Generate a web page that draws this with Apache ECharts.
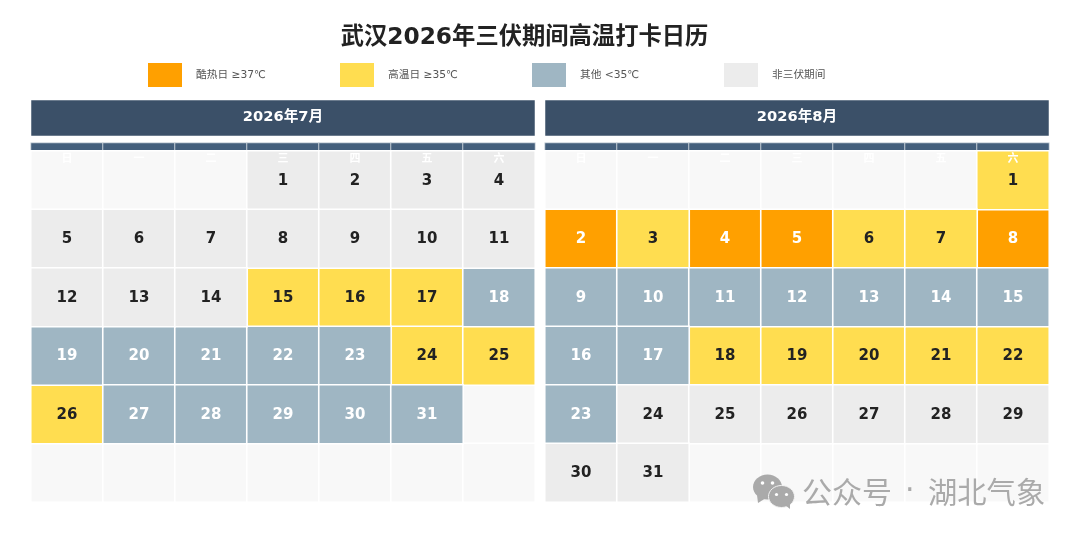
<!DOCTYPE html>
<html><head><meta charset="utf-8">
<style>html,body{margin:0;padding:0;background:#fff}#c{width:1080px;height:536px}</style>
<script src="https://cdn.jsdelivr.net/npm/echarts@6/dist/echarts.min.js"></script>
</head><body><div id="c"></div>
<script>
const titleText = '武汉2026年三伏期间高温打卡日历';
const weekdays = ['日','一','二','三','四','五','六'];
const rowsIdx = ['0','1','2','3','4','5'];
const monthTitles = ['2026年7月','2026年8月'];
const firstWeekday = [3, 6];
// status per day: C 酷热, H 高温, O 其他, N 非三伏
const julyStatus = ['N','N','N','N','N','N','N','N','N','N','N','N','N','N','H','H','H','O','O','O','O','O','O','H','H','H','O','O','O','O','O'];
const augStatus = ['H','C','H','C','C','H','H','C','O','O','O','O','O','O','O','O','O','H','H','H','H','H','O','N','N','N','N','N','N','N','N'];
const monthStatus = [julyStatus, augStatus];
const categories = [
  {key:'C', name:'酷热日 ≥37℃', color:'#FFA000', text:'#ffffff', legendLeft:148},
  {key:'H', name:'高温日 ≥35℃', color:'#FFDD50', text:'#222222', legendLeft:340},
  {key:'O', name:'其他 <35℃',  color:'#9FB6C3', text:'#ffffff', legendLeft:532},
  {key:'N', name:'非三伏期间', color:'#ECECEC', text:'#222222', legendLeft:724}
];
const FONT = '"DejaVu Sans","Noto Sans CJK SC",sans-serif';
const panels = [{left:31},{left:545}];
const W = 504;

const grid=[], xAxis=[], yAxis=[], series=[];
function addGrid(left, top, width, height, xData, yData, xOpt, yOpt){
  const i = grid.length;
  grid.push({left, top, width, height, containLabel:false});
  xAxis.push(Object.assign({type:'category', gridIndex:i, data:xData, show:false}, xOpt||{}));
  yAxis.push(Object.assign({type:'category', gridIndex:i, data:yData, show:false, inverse:true}, yOpt||{}));
  return i;
}
function cellSeries(name, idx, data, color, extra){
  series.push(Object.assign({
    type:'heatmap', name, xAxisIndex:idx, yAxisIndex:idx, data,
    itemStyle:{color, borderColor:'#fff', borderWidth:1.6},
    emphasis:{disabled:true}, animation:false, silent:true
  }, extra||{}));
}
panels.forEach((p, m)=>{
  // month band
  const g0 = addGrid(p.left + 0.5, 100.5, W - 1, 35, ['m'], ['r']);
  cellSeries('band'+m, g0, [[0,0,1]], '#3B5068', {
    itemStyle:{color:'#3B5068', borderWidth:0},
    label:{show:true, formatter:monthTitles[m], color:'#fff', fontFamily:FONT, fontWeight:'bold', fontSize:14.7, offset:[0,-1]}
  });
  // weekday strip
  const g1 = addGrid(p.left, 143, W, 8, weekdays, ['r']);
  cellSeries('strip'+m, g1, weekdays.map((d,i)=>[i,0,1]), '#445F7C', {
    itemStyle:{color:'#445F7C', borderColor:'#dfe5ea', borderWidth:0.8}
  });
  // calendar cells
  const g2 = addGrid(p.left, 151, W, 351, weekdays, rowsIdx, {
    show:true, position:'top', z:6,
    axisLine:{show:false}, axisTick:{show:false}, splitLine:{show:false},
    axisLabel:{show:true, inside:true, margin:3, color:'#fff', fontSize:11, fontWeight:'bold', fontFamily:FONT}
  });
  const occupied = {};
  const buckets = {C:[],H:[],O:[],N:[]};
  monthStatus[m].forEach((s,d)=>{
    const pos = d + firstWeekday[m];
    const c = pos % 7, r = Math.floor(pos/7);
    occupied[r+'_'+c] = 1;
    buckets[s].push([c, r, d+1]);
  });
  const blanks = [];
  rowsIdx.forEach((_,r)=>weekdays.forEach((_,c)=>{ if(!occupied[r+'_'+c]) blanks.push([c,r,0]); }));
  cellSeries('blank'+m, g2, blanks, '#F8F8F8');
  categories.forEach(cat=>{
    cellSeries(cat.name, g2, buckets[cat.key], cat.color, {
      label:{show:true, formatter:p=>String(p.value[2]), color:cat.text, fontFamily:FONT, fontWeight:'bold', fontSize:15, offset:[0,0.4]}
    });
  });
});

const option = {
  backgroundColor:'#fff', animation:false,
  title:{text:titleText, left:519.5, textAlign:'center', top:21,
    textStyle:{fontFamily:FONT, fontWeight:'bold', fontSize:23.3, color:'#222'}},
  legend: categories.map(c=>({
    data:[c.name], left:c.legendLeft, top:63, padding:0, itemWidth:34, itemHeight:24, itemGap:0,
    icon:'rect', selectedMode:false, itemStyle:{borderWidth:0},
    textStyle:{fontFamily:FONT, fontSize:10.7, color:'#555', padding:[0,0,4,9]}
  })),
  grid, xAxis, yAxis, series,
  graphic:[
    {type:'ellipse', z:100, shape:{cx:767.5, cy:487, rx:14.5, ry:12.5}, style:{fill:'#aaaaaa'}},
    {type:'polygon', z:100, shape:{points:[[757,495],[758,503],[766,498]]}, style:{fill:'#aaaaaa'}},
    {type:'circle', z:100, shape:{cx:762.5, cy:483, r:1.8}, style:{fill:'#fff'}},
    {type:'circle', z:100, shape:{cx:772.5, cy:483, r:1.8}, style:{fill:'#fff'}},
    {type:'ellipse', z:101, shape:{cx:781.5, cy:496.5, rx:13, ry:11}, style:{fill:'#aaaaaa', stroke:'#f4f4f4', lineWidth:1}},
    {type:'polygon', z:101, shape:{points:[[785,505],[790,509],[790,502]]}, style:{fill:'#aaaaaa'}},
    {type:'circle', z:102, shape:{cx:776.5, cy:494.5, r:1.6}, style:{fill:'#fff'}},
    {type:'circle', z:102, shape:{cx:786.5, cy:494.5, r:1.6}, style:{fill:'#fff'}},
    {type:'text', z:100, left:802, top:477, style:{text:'公众号', fill:'#aaaaaa', font:'30px "Noto Sans CJK SC",sans-serif'}},
    {type:'text', z:100, left:905, top:477, style:{text:'·', fill:'#aaaaaa', font:'30px "DejaVu Sans",sans-serif'}},
    {type:'text', z:100, left:928, top:477, style:{text:'湖北气象', fill:'#aaaaaa', font:'29.3px "Noto Sans CJK SC",sans-serif'}}
  ]
};
echarts.init(document.getElementById('c'), null, {renderer:'canvas'}).setOption(option);
</script></body></html>
